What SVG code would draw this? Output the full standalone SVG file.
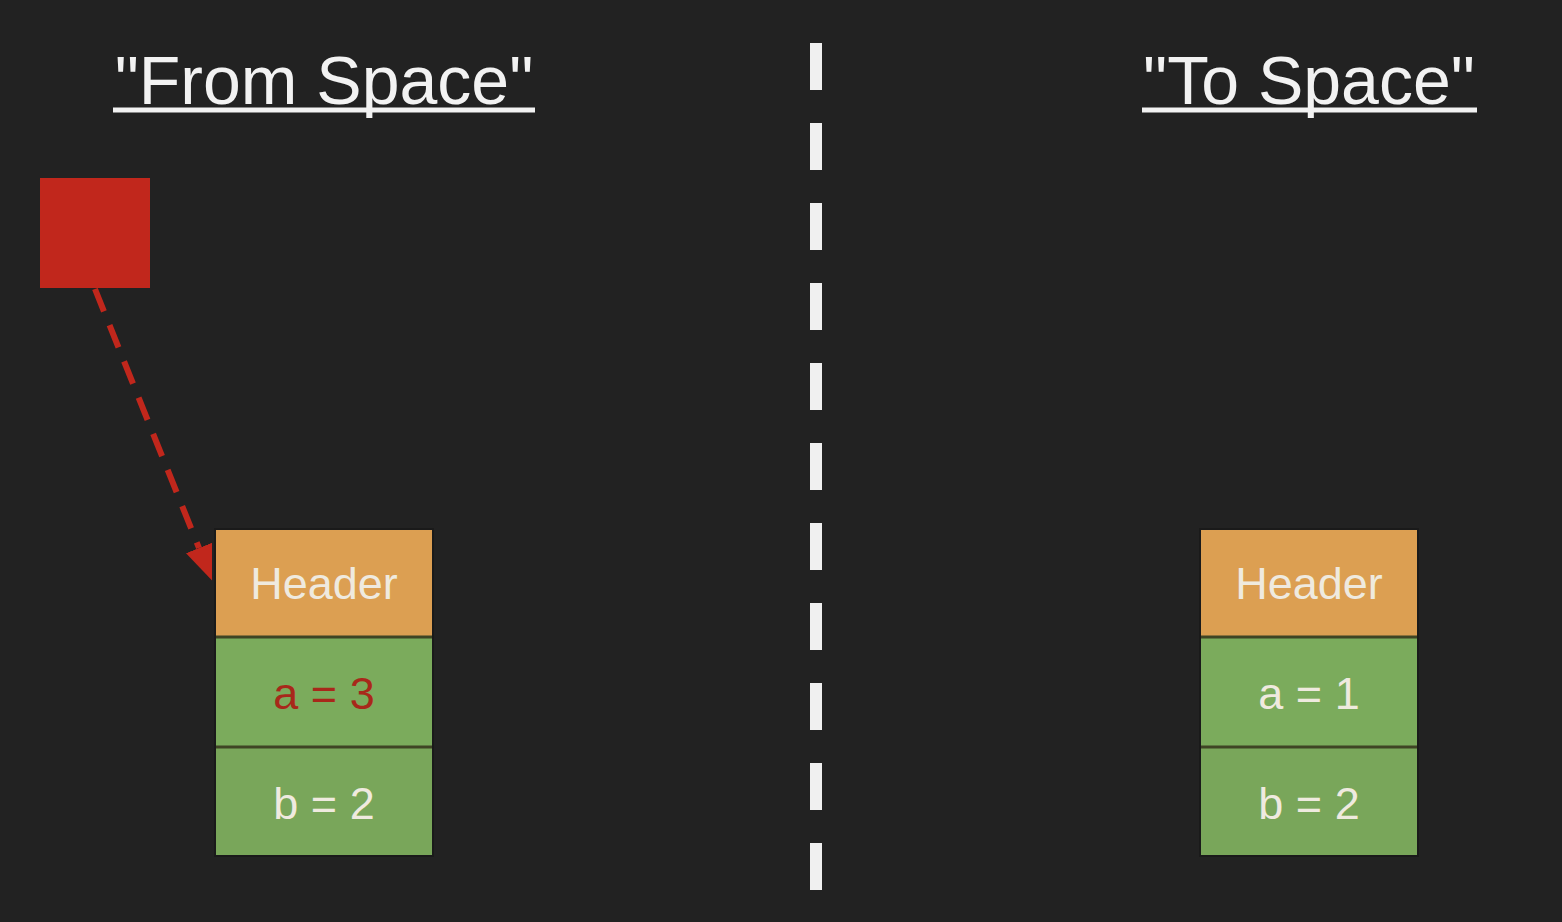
<svg xmlns="http://www.w3.org/2000/svg" width="1562" height="922" viewBox="0 0 1562 922">
  <style>
    .title { font-family: "Liberation Sans", Arial, sans-serif; font-size: 68px; fill: #f2f2f2; text-anchor: middle; }
    .uline { stroke: #f2f2f2; stroke-width: 5; }
    .cell-text { font-family: "Liberation Sans", Arial, sans-serif; font-size: 45px; fill: #efeadf; text-anchor: middle; }
    .hot { fill: #a8281a; }
    .header { fill: #dc9f52; }
    .field { fill: #7bab5c; }
    .field2 { fill: #79a65a; }
    .sep { stroke: #3f4424; stroke-width: 3; }
    .frame { fill: none; stroke: #1a1a1a; stroke-width: 2; }
    .divider { stroke: #f0f0f0; stroke-width: 12; stroke-dasharray: 47 33; }
    .ref { stroke: #c1271c; stroke-width: 6; stroke-dasharray: 24 15; fill: none; }
  </style>
  <defs>
    <marker id="arrow" markerUnits="userSpaceOnUse" markerWidth="36" markerHeight="30" refX="0" refY="14" orient="auto" viewBox="0 0 36 30">
      <path d="M0,0 L35,14 L0,28 z" fill="#c1271c"/>
    </marker>
  </defs>
  <rect x="0" y="0" width="1562" height="922" fill="#222222"/>

  <g id="title-from">
    <text class="title" x="324" y="104">"From Space"</text>
    <line class="uline" x1="113" y1="110" x2="535" y2="110"/>
  </g>
  <g id="title-to">
    <text class="title" x="1309" y="104">"To Space"</text>
    <line class="uline" x1="1142" y1="110" x2="1477" y2="110"/>
  </g>

  <g id="divider">
    <line class="divider" x1="816" y1="43" x2="816" y2="892"/>
  </g>

  <g id="pointer">
    <rect x="40" y="178" width="110" height="110" fill="#c1271c"/>
  </g>

  <g id="connectors">
    <line class="ref" x1="95" y1="289" x2="199" y2="548" marker-end="url(#arrow)"/>
  </g>

  <g id="from-object">
    <rect class="header" x="215" y="529" width="218" height="108"/>
    <rect class="field" x="215" y="637" width="218" height="110"/>
    <rect class="field2" x="215" y="747" width="218" height="109"/>
    <line class="sep" x1="215" y1="637" x2="433" y2="637"/>
    <line class="sep" x1="215" y1="747" x2="433" y2="747"/>
    <rect class="frame" x="215" y="529" width="218" height="327"/>
    <text class="cell-text" x="324" y="599">Header</text>
    <text class="cell-text hot" x="324" y="709">a = 3</text>
    <text class="cell-text" x="324" y="819">b = 2</text>
  </g>

  <g id="to-object">
    <rect class="header" x="1200" y="529" width="218" height="108"/>
    <rect class="field" x="1200" y="637" width="218" height="110"/>
    <rect class="field2" x="1200" y="747" width="218" height="109"/>
    <line class="sep" x1="1200" y1="637" x2="1418" y2="637"/>
    <line class="sep" x1="1200" y1="747" x2="1418" y2="747"/>
    <rect class="frame" x="1200" y="529" width="218" height="327"/>
    <text class="cell-text" x="1309" y="599">Header</text>
    <text class="cell-text" x="1309" y="709">a = 1</text>
    <text class="cell-text" x="1309" y="819">b = 2</text>
  </g>
</svg>
